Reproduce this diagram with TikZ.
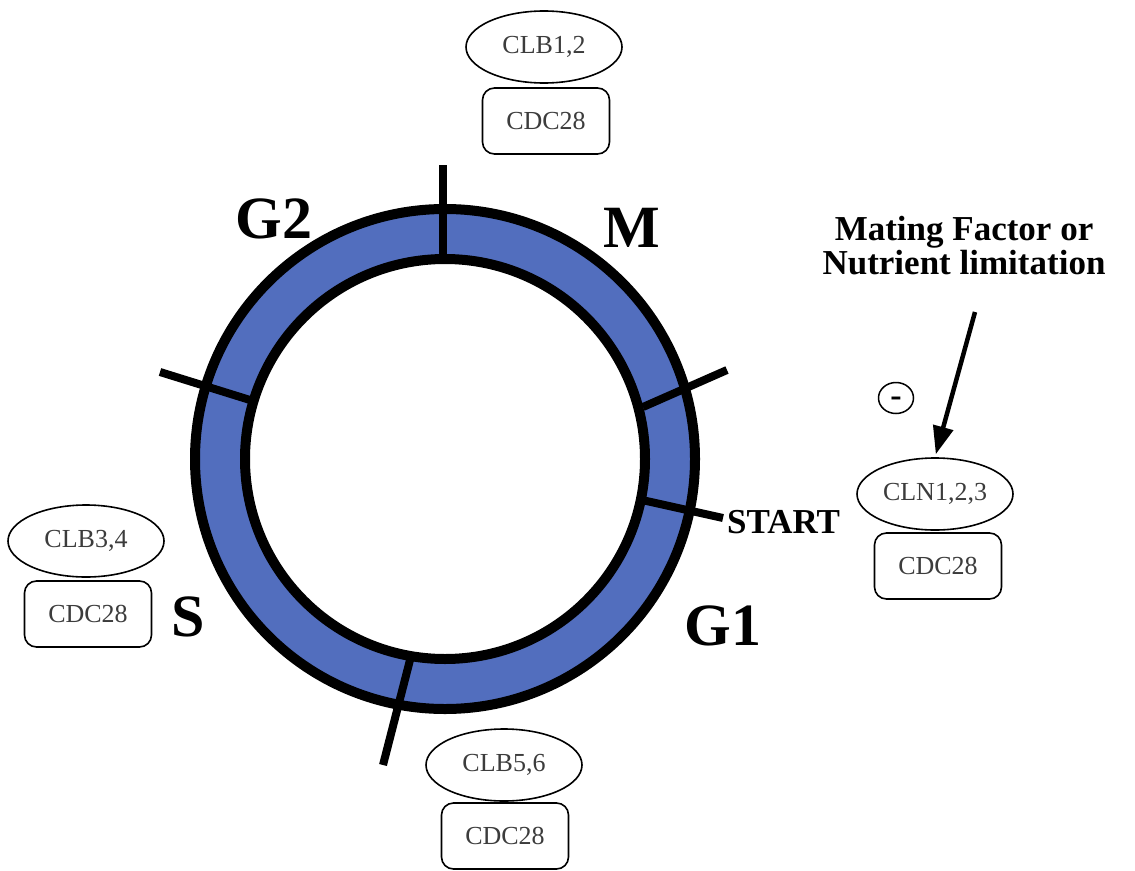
\documentclass[tikz,border=0pt]{standalone}
\usepackage{fontspec}
\setmainfont{Liberation Serif}
\usetikzlibrary{shapes.geometric,arrows.meta}
\definecolor{ringblue}{RGB}{82,110,190}
\definecolor{boxtext}{RGB}{60,60,60}
\begin{document}
\begin{tikzpicture}[x=1pt,y=-1pt,
  phase/.style={font=\fontsize{60}{60}\selectfont\bfseries, anchor=base, inner sep=0pt},
  signal/.style={font=\fontsize{35}{35}\selectfont\bfseries, anchor=base, inner sep=0pt},
  cyclin/.style={ellipse, draw, line width=1.6pt, minimum width=156pt, minimum height=72pt,
    inner sep=0pt, text=boxtext, font=\fontsize{26}{26}\selectfont},
  kinase/.style={rectangle, rounded corners=12pt, draw, line width=1.6pt, minimum width=127pt,
    minimum height=66pt, inner sep=0pt, text=boxtext, font=\fontsize{26}{26}\selectfont},
  phasetick/.style={line width=8pt},
  ringline/.style={line width=10pt}
]
\useasboundingbox (0,0) rectangle (1135,870);
% ring
\coordinate (c) at (445,459);
\fill[ringblue, even odd rule] (c) circle[radius=250pt] (c) circle[radius=200pt];
\draw[ringline] (c) circle[radius=250pt];
\draw[ringline] (c) circle[radius=200pt];
% phase boundaries
\draw[phasetick] (443,257) -- (443,165);
\draw[phasetick] (250,400) -- (160,372);
\draw[phasetick] (643,407) -- (727,370);
\draw[phasetick] (642,500) -- (723,518);
\draw[phasetick] (410,660) -- (383,765);
% phase labels
\node[phase] (g2) at (274,238) {G2};
\node[phase] (m) at (632,247) {M};
\node[phase] (s) at (188,636) {S};
\node[phase] (g1) at (723,645) {G1};
\node[signal, anchor=base west] (start) at (727,533) {START};
% complexes
\node[cyclin] (clb12) at (544,47) {CLB1,2};
\node[kinase] (cdcA) at (546,121) {CDC28};
\node[cyclin] (clb34) at (86,541) {CLB3,4};
\node[kinase] (cdcB) at (88,614) {CDC28};
\node[cyclin] (clb56) at (504,765) {CLB5,6};
\node[kinase] (cdcC) at (505,836) {CDC28};
\node[cyclin] (cln) at (935,494) {CLN1,2,3};
\node[kinase] (cdcD) at (938,566) {CDC28};
% signal
\node[signal] (mf1) at (964,240) {Mating Factor or};
\node[signal] (mf2) at (964,274) {Nutrient limitation};
\coordinate (mfarrow) at (975,312);
\draw[line width=4.5pt, -{Triangle[length=28pt,width=20pt]}, shorten >=3pt] (mfarrow) -- (cln.north);
\node[ellipse, draw, line width=1.5pt, minimum width=35pt, minimum height=31pt, inner sep=0pt,
  text height=17pt, text depth=0pt,
  font=\fontsize{34}{34}\selectfont\bfseries] (neg) at (896,398) {-};
\end{tikzpicture}
\end{document}
